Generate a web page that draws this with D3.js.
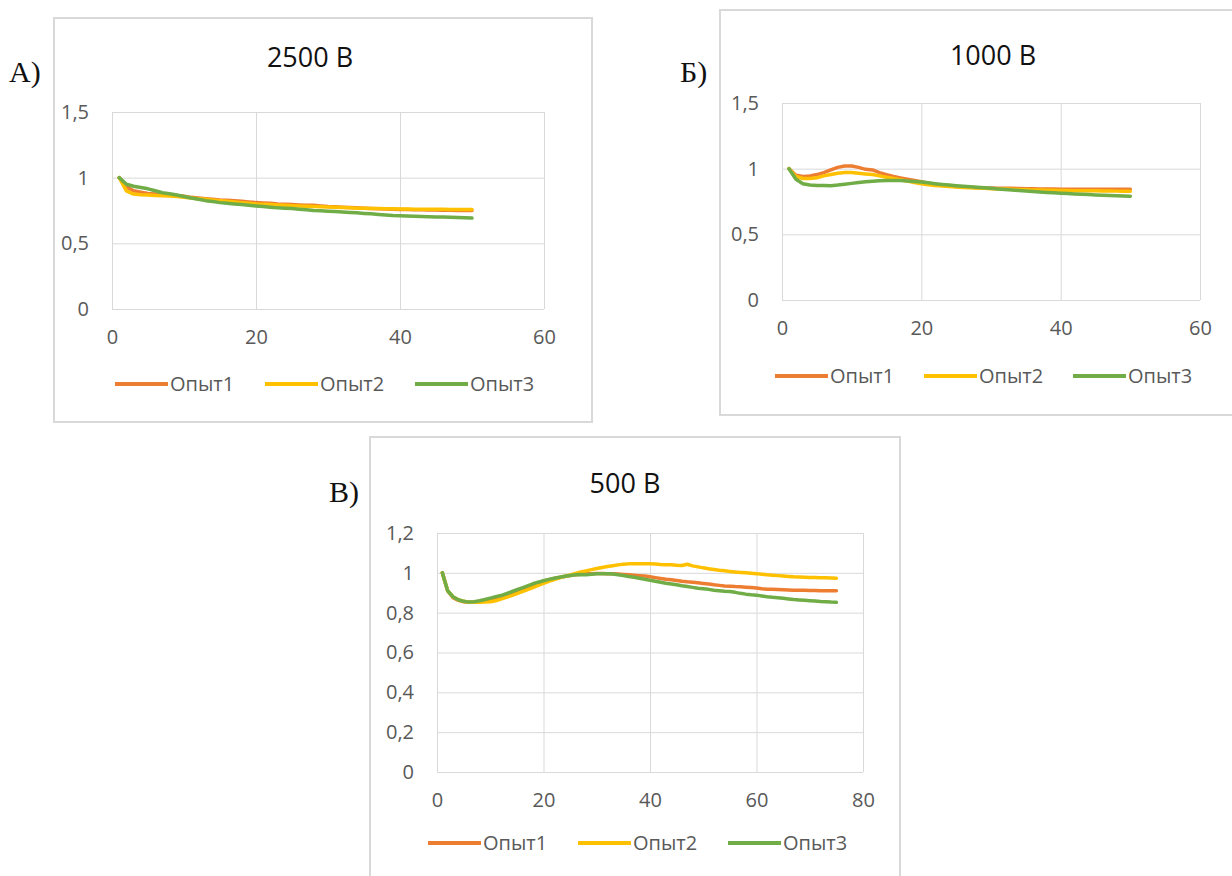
<!DOCTYPE html>
<html>
<head>
<meta charset="utf-8">
<script src="https://cdn.jsdelivr.net/npm/d3@7"></script>
<style>
  body { margin: 0; background: #fff; }
  text { font-family: "Open Sans", "Noto Sans", sans-serif; }
</style>
</head>
<body>
<div id="vis-canvas"></div>
<script>
const outerWidth = 1232;
const outerHeight = 876;

const seriesNames = ["Опыт1", "Опыт2", "Опыт3"];
const seriesColors = ["#ED7D31", "#FFC000", "#70AD47"];

// ** 2500 B, x = 1..50
const a_opyt1 = [1, 0.93, 0.90, 0.89, 0.88, 0.875, 0.87, 0.868, 0.865, 0.858,
  0.85, 0.845, 0.84, 0.835, 0.83, 0.828, 0.825, 0.82, 0.815, 0.81,
  0.808, 0.805, 0.80, 0.797, 0.795, 0.792, 0.79, 0.79, 0.785, 0.78,
  0.778, 0.775, 0.772, 0.77, 0.768, 0.766, 0.764, 0.762, 0.76, 0.758,
  0.757, 0.756, 0.755, 0.754, 0.753, 0.752, 0.751, 0.75, 0.75, 0.75];
const a_opyt2 = [1, 0.90, 0.875, 0.87, 0.868, 0.865, 0.862, 0.86, 0.856, 0.851,
  0.845, 0.84, 0.835, 0.83, 0.825, 0.82, 0.815, 0.81, 0.805, 0.80,
  0.798, 0.795, 0.792, 0.79, 0.787, 0.784, 0.782, 0.78, 0.778, 0.776,
  0.774, 0.772, 0.77, 0.768, 0.767, 0.766, 0.765, 0.764, 0.763, 0.762,
  0.761, 0.76, 0.76, 0.76, 0.759, 0.759, 0.758, 0.758, 0.757, 0.757];
const a_opyt3 = [1, 0.95, 0.935, 0.925, 0.915, 0.9, 0.885, 0.878, 0.868, 0.857,
  0.845, 0.835, 0.825, 0.818, 0.81, 0.805, 0.80, 0.795, 0.79, 0.785,
  0.78, 0.775, 0.77, 0.768, 0.765, 0.76, 0.755, 0.75, 0.748, 0.745,
  0.742, 0.738, 0.735, 0.732, 0.728, 0.725, 0.72, 0.716, 0.712, 0.71,
  0.708, 0.706, 0.704, 0.702, 0.70, 0.70, 0.698, 0.696, 0.694, 0.692];

// ** 1000 B, x = 1..50
const b_opyt1 = [1, 0.95, 0.94, 0.945, 0.955, 0.97, 0.99, 1.01, 1.02, 1.02,
  1.01, 0.995, 0.99, 0.97, 0.955, 0.94, 0.93, 0.92, 0.91, 0.90,
  0.89, 0.88, 0.875, 0.87, 0.865, 0.86, 0.858, 0.855, 0.853, 0.852,
  0.851, 0.85, 0.85, 0.849, 0.848, 0.847, 0.846, 0.845, 0.845, 0.844,
  0.844, 0.844, 0.844, 0.844, 0.844, 0.844, 0.844, 0.844, 0.844, 0.844];
const b_opyt2 = [1, 0.94, 0.925, 0.925, 0.93, 0.945, 0.955, 0.965, 0.97, 0.97,
  0.965, 0.96, 0.955, 0.945, 0.935, 0.925, 0.915, 0.905, 0.895, 0.885,
  0.878, 0.872, 0.868, 0.864, 0.86, 0.857, 0.854, 0.852, 0.85, 0.848,
  0.846, 0.845, 0.843, 0.841, 0.84, 0.838, 0.837, 0.836, 0.835, 0.834,
  0.833, 0.832, 0.832, 0.831, 0.831, 0.83, 0.83, 0.829, 0.829, 0.828];
const b_opyt3 = [1, 0.92, 0.885, 0.875, 0.872, 0.872, 0.87, 0.875, 0.882, 0.888,
  0.895, 0.90, 0.905, 0.908, 0.91, 0.91, 0.91, 0.907, 0.903, 0.898,
  0.892, 0.886, 0.88, 0.875, 0.87, 0.866, 0.862, 0.858, 0.854, 0.85,
  0.846, 0.842, 0.838, 0.834, 0.83, 0.826, 0.822, 0.819, 0.816, 0.813,
  0.81, 0.808, 0.806, 0.803, 0.80, 0.798, 0.796, 0.794, 0.792, 0.79];

// ** 500 B, x = 1..75
const c_opyt1 = [1, 0.91, 0.875, 0.862, 0.855, 0.852, 0.853, 0.857, 0.862, 0.868,
  0.875, 0.882, 0.89, 0.90, 0.91, 0.92, 0.93, 0.94, 0.95, 0.958,
  0.965, 0.972, 0.977, 0.982, 0.986, 0.99, 0.993, 0.995, 0.996, 0.997,
  0.997, 0.996, 0.995, 0.994, 0.992, 0.99, 0.988, 0.986, 0.984, 0.98,
  0.976, 0.972, 0.968, 0.965, 0.962, 0.958, 0.955, 0.953, 0.95, 0.947,
  0.944, 0.94, 0.937, 0.934, 0.933, 0.931, 0.93, 0.928, 0.926, 0.924,
  0.92, 0.918, 0.917, 0.916, 0.915, 0.914, 0.913, 0.912, 0.912, 0.911,
  0.911, 0.91, 0.91, 0.91, 0.91];
const c_opyt2 = [1, 0.91, 0.88, 0.865, 0.857, 0.853, 0.852, 0.852, 0.853, 0.855,
  0.86, 0.868, 0.877, 0.886, 0.896, 0.906, 0.916, 0.926, 0.937, 0.947,
  0.957, 0.966, 0.975, 0.983, 0.99, 0.997, 1.004, 1.01, 1.016, 1.022,
  1.027, 1.032, 1.036, 1.04, 1.043, 1.045, 1.046, 1.046, 1.046, 1.045,
  1.044, 1.042, 1.041, 1.04, 1.038, 1.037, 1.043, 1.035, 1.03, 1.025,
  1.021, 1.017, 1.013, 1.01, 1.007, 1.004, 1.002, 1.0, 0.998, 0.996,
  0.993, 0.99, 0.988, 0.986, 0.984, 0.982, 0.98, 0.979, 0.978, 0.977,
  0.976, 0.975, 0.975, 0.974, 0.973];
const c_opyt3 = [1, 0.91, 0.88, 0.865, 0.857, 0.853, 0.855, 0.86, 0.866, 0.873,
  0.88, 0.886, 0.895, 0.905, 0.915, 0.925, 0.935, 0.945, 0.953, 0.96,
  0.967, 0.973, 0.978, 0.983, 0.987, 0.99, 0.992, 0.99, 0.993, 0.995,
  0.996, 0.995, 0.994, 0.99, 0.987, 0.982, 0.978, 0.973, 0.968, 0.963,
  0.958, 0.953, 0.948, 0.944, 0.94, 0.935, 0.931, 0.927, 0.923, 0.92,
  0.917, 0.913, 0.91, 0.907, 0.906, 0.902, 0.897, 0.893, 0.89, 0.888,
  0.884, 0.88, 0.877, 0.875, 0.872, 0.869, 0.866, 0.864, 0.862, 0.86,
  0.858, 0.856, 0.855, 0.853, 0.852];

const xTicks60 = [0, 20, 40, 60];
const xTicks80 = [0, 20, 40, 60, 80];
const yTicks15 = [0, 0.5, 1, 1.5];
const yTicks12 = [0, 0.2, 0.4, 0.6, 0.8, 1, 1.2];

const panels = [
  { label: "А)", title: "2500 В", series: [a_opyt1, a_opyt2, a_opyt3],
    xTicks: xTicks60, yTicks: yTicks15,
    box: {x: 54, y: 18, w: 538, h: 404},
    plot: {left: 112, right: 544, top: 112, bottom: 309},
    titlePos: [310, 67], labelPos: [9, 82], legend: {x: 115, y: 384, step: 150} },
  { label: "Б)", title: "1000 В", series: [b_opyt1, b_opyt2, b_opyt3],
    xTicks: xTicks60, yTicks: yTicks15,
    box: {x: 720, y: 10, w: 530, h: 405},
    plot: {left: 782, right: 1200, top: 103, bottom: 300},
    titlePos: [993, 65], labelPos: [680, 82], legend: {x: 775, y: 376, step: 149} },
  { label: "В)", title: "500 В", series: [c_opyt1, c_opyt2, c_opyt3],
    xTicks: xTicks80, yTicks: yTicks12,
    box: {x: 370, y: 437, w: 530, h: 460},
    plot: {left: 437, right: 863, top: 533, bottom: 772},
    titlePos: [625, 493], labelPos: [329, 502], legend: {x: 428, y: 843, step: 150} }
];

const ruLocale = d3.formatLocale({decimal: ",", thousands: " ", grouping: [3], currency: ["", ""]});
const fmt = ruLocale.format("~g");

const svg = d3.select("#vis-canvas").append("svg")
    .attr("width", outerWidth)
    .attr("height", outerHeight);

svg.append("rect").attr("width", outerWidth).attr("height", outerHeight).attr("fill", "#fff");

panels.forEach(p => {
    const g = svg.append("g");

    g.append("rect")
        .attr("x", p.box.x).attr("y", p.box.y)
        .attr("width", p.box.w).attr("height", p.box.h)
        .attr("fill", "#fff")
        .attr("stroke", "#d9d9d9")
        .attr("stroke-width", 2);

    const x = d3.scaleLinear()
        .domain(d3.extent(p.xTicks))
        .range([p.plot.left, p.plot.right]);
    const y = d3.scaleLinear()
        .domain(d3.extent(p.yTicks))
        .range([p.plot.bottom, p.plot.top]);
    const w = p.plot.right - p.plot.left;
    const h = p.plot.bottom - p.plot.top;

    // horizontal gridlines + y labels
    const yAxis = g.append("g")
        .attr("transform", `translate(${p.plot.left},0)`)
        .call(d3.axisLeft(y).tickValues(p.yTicks).tickFormat(fmt)
              .tickSize(-w).tickPadding(23));
    // vertical gridlines + x labels
    const xAxis = g.append("g")
        .attr("transform", `translate(0,${p.plot.bottom})`)
        .call(d3.axisBottom(x).tickValues(p.xTicks).tickFormat(fmt)
              .tickSize(-h).tickPadding(21));

    [yAxis, xAxis].forEach(ax => {
        ax.select(".domain").remove();
        ax.selectAll("line").attr("stroke", "#d9d9d9").attr("stroke-width", 1);
        ax.selectAll("text")
            .attr("fill", "#595959")
            .style("font-size", "20px")
            .style("font-family", '"Open Sans", sans-serif');
    });

    const line = d3.line()
        .x((d, i) => x(i + 1))
        .y(d => y(d));

    p.series.forEach((s, k) => {
        g.append("path")
            .datum(s)
            .attr("fill", "none")
            .attr("stroke", seriesColors[k])
            .attr("stroke-width", 3.5)
            .attr("stroke-linejoin", "round")
            .attr("stroke-linecap", "round")
            .attr("d", line);
    });

    g.append("text")
        .attr("x", p.titlePos[0]).attr("y", p.titlePos[1])
        .attr("text-anchor", "middle")
        .attr("fill", "#111")
        .style("font-size", "27px")
        .text(p.title);

    g.append("text")
        .attr("x", p.labelPos[0]).attr("y", p.labelPos[1])
        .attr("fill", "#111")
        .style("font-family", '"Liberation Serif", serif')
        .style("font-size", "30px")
        .text(p.label);

    const leg = g.append("g")
        .selectAll("g")
        .data(seriesNames)
        .join("g")
        .attr("transform", (d, i) => `translate(${p.legend.x + i * p.legend.step},${p.legend.y})`);
    leg.append("line")
        .attr("x1", 0).attr("x2", 53)
        .attr("stroke", (d, i) => seriesColors[i])
        .attr("stroke-width", 4);
    leg.append("text")
        .attr("x", 55).attr("dy", "0.35em")
        .attr("fill", "#595959")
        .style("font-size", "20px")
        .text(d => d);
});
</script>
</body>
</html>
